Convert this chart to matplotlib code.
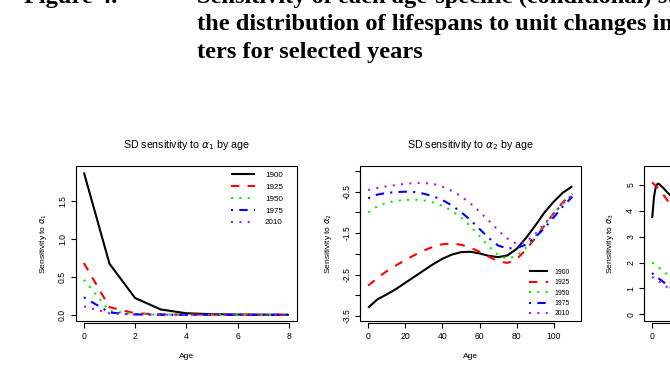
import matplotlib
matplotlib.use("Agg")
import matplotlib.pyplot as plt
from matplotlib.patches import Rectangle

plt.rcParams['font.family'] = ['Liberation Sans', 'DejaVu Sans']
plt.rcParams['mathtext.fontset'] = 'dejavusans'

# ---------------- data ----------------
years = ["1900", "1925", "1950", "1975", "2010"]
colors = ["#000000", "#FF0000", "#00F000", "#0000FF", "#A020F0"]
styles = ["-", (0, (4, 4)), (0, (1, 3)), (0, (1, 3, 4, 3)), (0, (1, 3))]

ages1 = [0, 1, 2, 3, 4, 5, 6, 7, 8]
a1_1900 = [1.87, 0.67, 0.22, 0.07, 0.02, 0.008, 0.003, 0.001, 0.0]
a1_1925 = [0.68, 0.10, 0.02, 0.005, 0.002, 0.001, 0.0, 0.0, 0.0]
a1_1950 = [0.46, 0.05, 0.01, 0.003, 0.001, 0.0, 0.0, 0.0, 0.0]
a1_1975 = [0.23, 0.03, 0.005, 0.001, 0.0, 0.0, 0.0, 0.0, 0.0]
a1_2010 = [0.11, 0.02, 0.003, 0.001, 0.0, 0.0, 0.0, 0.0, 0.0]

ages2 = [0, 5, 10, 15, 20, 25, 30, 35, 40, 45, 50, 55, 60, 65, 70, 75, 80, 85, 90, 95, 100, 105, 110]
a2_1900 = [-3.30, -3.10, -2.98, -2.85, -2.70, -2.55, -2.40, -2.25, -2.12, -2.02, -1.96, -1.95, -1.99,
           -2.05, -2.08, -2.04, -1.88, -1.62, -1.32, -1.00, -0.74, -0.52, -0.37]
a2_1925 = [-2.77, -2.58, -2.42, -2.28, -2.15, -2.03, -1.92, -1.83, -1.77, -1.75, -1.78, -1.85, -1.95,
           -2.07, -2.18, -2.22, -2.13, -1.90, -1.62, -1.32, -1.02, -0.75, -0.55]
a2_1950 = [-1.00, -0.85, -0.77, -0.72, -0.70, -0.69, -0.71, -0.76, -0.84, -0.96, -1.12, -1.33, -1.57,
           -1.82, -2.03, -2.12, -2.05, -1.85, -1.58, -1.30, -1.02, -0.78, -0.58]
a2_1975 = [-0.66, -0.57, -0.53, -0.51, -0.50, -0.51, -0.55, -0.61, -0.70, -0.83, -0.99, -1.18, -1.40,
           -1.62, -1.80, -1.87, -1.86, -1.78, -1.60, -1.38, -1.12, -0.85, -0.62]
a2_2010 = [-0.46, -0.41, -0.37, -0.34, -0.31, -0.29, -0.29, -0.31, -0.38, -0.48, -0.61, -0.78, -0.98,
           -1.20, -1.43, -1.63, -1.76, -1.72, -1.52, -1.28, -1.02, -0.78, -0.57]

ages3 = [0, 1, 2, 3, 4, 6, 8, 10]
a3_1900 = [3.72, 4.55, 4.95, 5.05, 5.02, 4.88, 4.72, 4.58]
a3_1925 = [5.10, 5.02, 4.95, 4.88, 4.80, 4.62, 4.42, 4.25]
a3_1950 = [2.00, 1.95, 1.90, 1.84, 1.78, 1.65, 1.55, 1.45]
a3_1975 = [1.60, 1.50, 1.44, 1.40, 1.36, 1.25, 1.13, 1.02]
a3_2010 = [1.45, 1.40, 1.35, 1.30, 1.25, 1.15, 1.05, 0.95]

xt1 = [0, 2, 4, 6, 8]
yt1 = [0.0, 0.5, 1.0, 1.5]
yl1 = ["0.0", "0.5", "1.0", "1.5"]
xt2 = [0, 20, 40, 60, 80, 100]
yt2 = [0.0, -0.5, -1.0, -1.5, -2.0, -2.5, -3.0, -3.5]
yl2 = ["", "-0.5", "", "-1.5", "", "-2.5", "", "-3.5"]
xt3 = [0, 20, 40, 60, 80, 100]
yt3 = [0, 1, 2, 3, 4, 5]

titles = [r"SD sensitivity to $\alpha_1$ by age", r"SD sensitivity to $\alpha_2$ by age",
          r"SD sensitivity to $\alpha_3$ by age"]
ylabels = [r"Sensitivity to $\alpha_1$", r"Sensitivity to $\alpha_2$", r"Sensitivity to $\alpha_3$"]

header_fig = "Figure 4."
header_lines = ["Sensitivity of each age-specific (conditional) standard deviation of",
                "the distribution of lifespans to unit changes in the parame-",
                "ters for selected years"]

# ---------------- layout ----------------
W, H = 670, 388
fig = plt.figure(figsize=(W / 100, H / 100), dpi=100)


def rect(l, r, t, b):
    return [l / W, 1 - b / H, (r - l) / W, (b - t) / H]


def style_axes(ax, xt, yt, yl, xlim, ylim, title, ylabel, ylab_dx):
    ax.set_xlim(*xlim)
    ax.set_ylim(*ylim)
    for s in ax.spines.values():
        s.set_visible(False)
    ax.add_patch(Rectangle((0, 0), 1, 1, transform=ax.transAxes, fill=False,
                           lw=0.8, ec="black", clip_on=False, zorder=5))
    ax.spines['bottom'].set_visible(True)
    ax.spines['left'].set_visible(True)
    ax.spines['bottom'].set_position(('outward', 2))
    ax.spines['left'].set_position(('outward', 0))
    ax.spines['bottom'].set_linewidth(0.8)
    ax.spines['left'].set_linewidth(0.8)
    ax.set_xticks(xt)
    ax.set_yticks(yt)
    if yl is not None:
        ax.set_yticklabels(yl)
    ax.spines['bottom'].set_bounds(min(xt), max(xt))
    ax.spines['left'].set_bounds(min(yt), max(yt))
    ax.tick_params(direction='out', length=3.3, width=0.8, labelsize=6.2,
                   colors='black', pad=3.0)
    ax.tick_params(axis='y', labelrotation=90)
    for lab in ax.get_yticklabels():
        lab.set_va('center')
    ax.set_facecolor('white')
    bbox = ax.get_position()
    hpx = bbox.height * H
    wpx = bbox.width * W
    ax.text(0.5, 1 + 21 / hpx, title, transform=ax.transAxes, ha='center', va='center',
            fontsize=7.7)
    ax.text(0.5, -36.2 / hpx, "Age", transform=ax.transAxes, ha='center', va='center',
            fontsize=6.1)
    ax.text(-ylab_dx / wpx, 0.5, ylabel, transform=ax.transAxes, ha='center', va='center',
            rotation=90, fontsize=6.1)


ax1 = fig.add_axes(rect(75.7, 297, 166, 320.5))
ax2 = fig.add_axes(rect(360, 580.5, 166, 320.5))
ax3 = fig.add_axes(rect(644, 865, 166, 320.5))

series1 = [a1_1900, a1_1925, a1_1950, a1_1975, a1_2010]
series2 = [a2_1900, a2_1925, a2_1950, a2_1975, a2_2010]
series3 = [a3_1900, a3_1925, a3_1950, a3_1975, a3_2010]

for ax, ages, series in [(ax1, ages1, series1), (ax2, ages2, series2), (ax3, ages3, series3)]:
    for vals, c, ls, yr in zip(series, colors, styles, years):
        ax.plot(ages, vals, color=c, linestyle=ls, lw=1.5, label=yr,
                solid_capstyle='butt', dash_capstyle='butt')

style_axes(ax1, xt1, yt1, yl1, (-0.32, 8.32), (-0.075, 1.955), titles[0], ylabels[0], 32.4)
style_axes(ax2, xt2, yt2, yl2, (-4.4, 114.4), (-3.61, 0.12), titles[1], ylabels[1], 32.0)
style_axes(ax3, xt3, yt3, None, (-4.4, 114.4), (-0.24, 5.73), titles[2], ylabels[2], 34.0)

ax1.legend(loc='upper right', bbox_to_anchor=((283 - 75.7) / 221.3, 0.965), frameon=False,
           fontsize=5.8, handlelength=2.9, handletextpad=1.3, labelspacing=0.52,
           borderaxespad=0, borderpad=0)
ax2.legend(loc='upper right', bbox_to_anchor=((570 - 360) / 220.5, 0.335), frameon=False,
           fontsize=4.9, handlelength=2.8, handletextpad=1.0, labelspacing=0.5,
           borderaxespad=0, borderpad=0)

hfont = dict(family=['Liberation Serif', 'DejaVu Serif'], weight='bold', fontsize=17.6)
fig.text(23.5 / W, 1 - 2.5 / H, header_fig, va='baseline', ha='left', **hfont)
base_y = [2.5, 30.2, 57.9]
for line, by in zip(header_lines, base_y):
    fig.text(196.6 / W, 1 - by / H, line, va='baseline', ha='left', **hfont)

fig.savefig("out.png", dpi=100, facecolor='white')
